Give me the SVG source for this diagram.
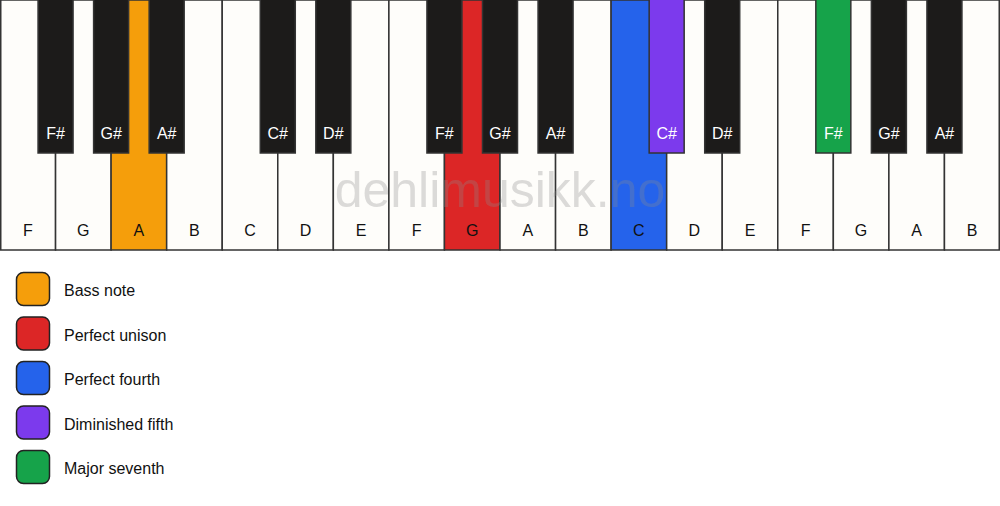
<svg xmlns="http://www.w3.org/2000/svg" width="1000" height="506" viewBox="0 0 1000 506">
<style>
.w{fill:#fefdfa;stroke:#333;stroke-width:1.5}
.b{fill:#1c1b1a;stroke:#333;stroke-width:1.5}
.wl{font-family:"Liberation Sans",Arial,sans-serif;font-size:16px;fill:#111;text-anchor:middle}
.bl{font-family:"Liberation Sans",Arial,sans-serif;font-size:16px;fill:#fff;text-anchor:middle}
.lg{stroke:#222;stroke-width:1.5}
.lt{font-family:"Liberation Sans",Arial,sans-serif;font-size:16px;fill:#111}
.wm{font-family:"Liberation Sans",Arial,sans-serif;font-size:50px;fill:#8a8a8a;fill-opacity:0.3;text-anchor:middle}
</style>
<rect width="1000" height="506" fill="#ffffff"/>
<g id="white-keys">
<g id="w0"><rect class="w" x="0.75" y="0" width="54.8" height="250"/><text class="wl" x="27.8" y="236">F</text></g>
<g id="w1"><rect class="w" x="55.56" y="0" width="55.56" height="250"/><text class="wl" x="83.3" y="236">G</text></g>
<g id="w2"><rect class="w" x="111.11" y="0" width="55.56" height="250" style="fill:#f59e0b"/><text class="wl" x="138.9" y="236">A</text></g>
<g id="w3"><rect class="w" x="166.67" y="0" width="55.56" height="250"/><text class="wl" x="194.4" y="236">B</text></g>
<g id="w4"><rect class="w" x="222.22" y="0" width="55.56" height="250"/><text class="wl" x="250" y="236">C</text></g>
<g id="w5"><rect class="w" x="277.78" y="0" width="55.56" height="250"/><text class="wl" x="305.6" y="236">D</text></g>
<g id="w6"><rect class="w" x="333.33" y="0" width="55.56" height="250"/><text class="wl" x="361.1" y="236">E</text></g>
<g id="w7"><rect class="w" x="388.89" y="0" width="55.56" height="250"/><text class="wl" x="416.7" y="236">F</text></g>
<g id="w8"><rect class="w" x="444.44" y="0" width="55.56" height="250" style="fill:#dc2626"/><text class="wl" x="472.2" y="236">G</text></g>
<g id="w9"><rect class="w" x="500" y="0" width="55.56" height="250"/><text class="wl" x="527.8" y="236">A</text></g>
<g id="w10"><rect class="w" x="555.56" y="0" width="55.56" height="250"/><text class="wl" x="583.3" y="236">B</text></g>
<g id="w11"><rect class="w" x="611.11" y="0" width="55.56" height="250" style="fill:#2563eb"/><text class="wl" x="638.9" y="236">C</text></g>
<g id="w12"><rect class="w" x="666.67" y="0" width="55.56" height="250"/><text class="wl" x="694.4" y="236">D</text></g>
<g id="w13"><rect class="w" x="722.22" y="0" width="55.56" height="250"/><text class="wl" x="750" y="236">E</text></g>
<g id="w14"><rect class="w" x="777.78" y="0" width="55.56" height="250"/><text class="wl" x="805.6" y="236">F</text></g>
<g id="w15"><rect class="w" x="833.33" y="0" width="55.56" height="250"/><text class="wl" x="861.1" y="236">G</text></g>
<g id="w16"><rect class="w" x="888.89" y="0" width="55.56" height="250"/><text class="wl" x="916.7" y="236">A</text></g>
<g id="w17"><rect class="w" x="944.44" y="0" width="54.8" height="250"/><text class="wl" x="972.2" y="236">B</text></g>
</g>
<text class="wm" x="500" y="207">dehlimusikk.no</text>
<g id="black-keys">
<g id="b1"><rect class="b" x="38.06" y="-1" width="35" height="154"/><text class="bl" x="55.56" y="139">F#</text></g>
<g id="b2"><rect class="b" x="93.61" y="-1" width="35" height="154"/><text class="bl" x="111.11" y="139">G#</text></g>
<g id="b3"><rect class="b" x="149.17" y="-1" width="35" height="154"/><text class="bl" x="166.67" y="139">A#</text></g>
<g id="b5"><rect class="b" x="260.28" y="-1" width="35" height="154"/><text class="bl" x="277.78" y="139">C#</text></g>
<g id="b6"><rect class="b" x="315.83" y="-1" width="35" height="154"/><text class="bl" x="333.33" y="139">D#</text></g>
<g id="b8"><rect class="b" x="426.94" y="-1" width="35" height="154"/><text class="bl" x="444.44" y="139">F#</text></g>
<g id="b9"><rect class="b" x="482.5" y="-1" width="35" height="154"/><text class="bl" x="500" y="139">G#</text></g>
<g id="b10"><rect class="b" x="538.06" y="-1" width="35" height="154"/><text class="bl" x="555.56" y="139">A#</text></g>
<g id="b12"><rect class="b" x="649.17" y="-1" width="35" height="154" style="fill:#7c3aed"/><text class="bl" x="666.67" y="139">C#</text></g>
<g id="b13"><rect class="b" x="704.72" y="-1" width="35" height="154"/><text class="bl" x="722.22" y="139">D#</text></g>
<g id="b15"><rect class="b" x="815.83" y="-1" width="35" height="154" style="fill:#16a34a"/><text class="bl" x="833.33" y="139">F#</text></g>
<g id="b16"><rect class="b" x="871.39" y="-1" width="35" height="154"/><text class="bl" x="888.89" y="139">G#</text></g>
<g id="b17"><rect class="b" x="926.94" y="-1" width="35" height="154"/><text class="bl" x="944.44" y="139">A#</text></g>
</g>
<g id="legend">
<g id="lg-bass"><rect class="lg" x="16.5" y="272.5" width="33" height="33" rx="7" fill="#f59e0b"/><text class="lt" x="64" y="296">Bass note</text></g>
<g id="lg-unison"><rect class="lg" x="16.5" y="317" width="33" height="33" rx="7" fill="#dc2626"/><text class="lt" x="64" y="340.5">Perfect unison</text></g>
<g id="lg-fourth"><rect class="lg" x="16.5" y="361.5" width="33" height="33" rx="7" fill="#2563eb"/><text class="lt" x="64" y="385">Perfect fourth</text></g>
<g id="lg-dim5"><rect class="lg" x="16.5" y="406" width="33" height="33" rx="7" fill="#7c3aed"/><text class="lt" x="64" y="429.5">Diminished fifth</text></g>
<g id="lg-maj7"><rect class="lg" x="16.5" y="450.5" width="33" height="33" rx="7" fill="#16a34a"/><text class="lt" x="64" y="474">Major seventh</text></g>
</g>
</svg>
